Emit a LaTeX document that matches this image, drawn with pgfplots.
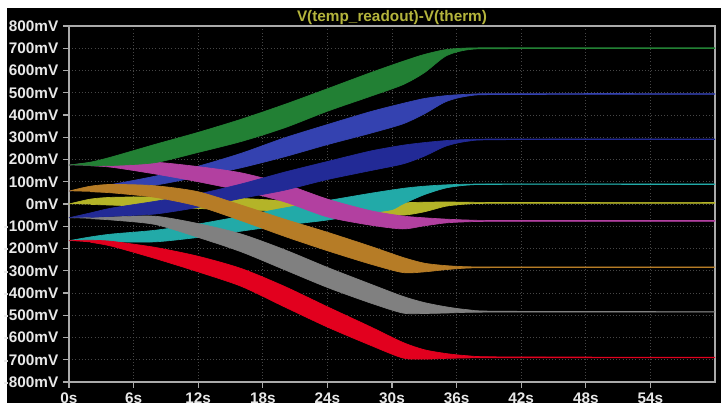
\documentclass[border=0pt]{standalone}
\usepackage{fontspec}
\setmainfont{Liberation Sans}
\usepackage{pgfplots}
\pgfplotsset{compat=1.18}
\usetikzlibrary{calc,backgrounds}

\definecolor{trgreen}{RGB}{34,128,52}
\definecolor{trroyal}{RGB}{52,66,176}
\definecolor{trnavy}{RGB}{34,42,150}
\definecolor{trmagenta}{RGB}{178,64,160}
\definecolor{trorange}{RGB}{182,124,38}
\definecolor{tryellow}{RGB}{180,180,40}
\definecolor{trgray}{RGB}{128,128,128}
\definecolor{trcyan}{RGB}{34,170,168}
\definecolor{trred}{RGB}{226,0,30}
\definecolor{ttl}{RGB}{180,180,60}
\definecolor{tlbl}{RGB}{232,232,232}
\definecolor{framec}{RGB}{170,170,170}
\definecolor{gridc}{RGB}{70,70,70}

\begin{document}
\begin{tikzpicture}
\begin{axis}[
  scale only axis, width=484.5pt, height=267pt,
  xmin=0, xmax=60, ymin=-800, ymax=800,
  xtick={0,6,...,54},
  xticklabels={0s,6s,12s,18s,24s,30s,36s,42s,48s,54s},
  ytick={-800,-700,...,800},
  yticklabels={-800mV,-700mV,-600mV,-500mV,-400mV,-300mV,-200mV,-100mV,0mV,100mV,200mV,300mV,400mV,500mV,600mV,700mV,800mV},
  tick pos=left, tick align=outside, major tick length=4.5pt,
  major tick style={framec, line width=1pt},
  axis line style={framec, line width=1.1pt},
  ticklabel style={font=\fontsize{11.5}{13}\selectfont\bfseries, text=tlbl},
  grid=major,
  major grid style={dotted, gridc, line width=0.6pt},
  every axis plot/.append style={line width=0.5pt, line join=round, smooth, tension=0.45},
]
\coordinate (ll) at (rel axis cs:0,0);
% each band: upper envelope left to right, then lower envelope back
% yellow
\addplot[fill=tryellow, draw=tryellow] coordinates {
 (0,0) (2,22) (4,30) (8,32) (12,30) (16,25) (20,15) (24,10) (28,8) (31,6) (33,8) (35,9) (37,8) (40,7) (60,7)
 (60,3) (40,3) (37,0) (35,-10) (33,-35) (31,-50) (28,-45) (24,-38) (20,-32) (16,-28) (12,-20) (8,-12) (4,-5) (2,-2)};
% royal blue
\addplot[fill=trroyal, draw=trroyal] coordinates {
 (0,58) (2,72) (4,88) (8,125) (12,170) (16,228) (20,297) (24,357) (28,415) (31,452) (33,474) (35,487) (37,493) (40,496) (60,496)
 (60,493) (40,492) (37,485) (35,460) (33,405) (31,360) (28,318) (24,267) (20,212) (16,163) (12,122) (8,85) (4,66) (2,62)};
% cyan
\addplot[fill=trcyan, draw=trcyan] coordinates {
 (0,-165) (2,-148) (4,-135) (8,-118) (12,-90) (16,-55) (20,-18) (24,15) (28,48) (31,70) (33,80) (35,86) (37,89) (40,90) (60,90)
 (60,88) (40,88) (37,85) (35,72) (33,42) (31,0) (30,-25) (28,-40) (24,-72) (20,-95) (16,-122) (12,-150) (8,-170) (4,-170) (2,-167)};
% gray
\addplot[fill=trgray, draw=trgray] coordinates {
 (0,-62) (2,-60) (4,-58) (8,-55) (12,-88) (16,-135) (20,-205) (24,-285) (28,-360) (31,-415) (33,-443) (35,-462) (37,-475) (40,-482) (60,-484)
 (60,-486) (40,-486) (37,-487) (35,-490) (33,-492) (31,-490) (28,-445) (24,-375) (20,-295) (16,-215) (12,-150) (8,-92) (4,-72) (2,-66)};
% red
\addplot[fill=trred, draw=trred] coordinates {
 (0,-165) (2,-163) (4,-168) (8,-195) (12,-235) (16,-290) (20,-370) (24,-462) (28,-552) (31,-622) (33,-655) (35,-672) (37,-682) (40,-687) (60,-689)
 (60,-691) (40,-691) (37,-692) (35,-694) (33,-697) (31,-692) (28,-635) (24,-553) (20,-462) (16,-370) (12,-305) (8,-245) (4,-190) (2,-172)};
% magenta
\addplot[fill=trmagenta, draw=trmagenta] coordinates {
 (0,175) (2,185) (4,192) (8,188) (12,168) (16,140) (20,90) (24,22) (28,-30) (31,-54) (33,-62) (35,-68) (37,-72) (40,-74) (60,-74)
 (60,-78) (40,-78) (37,-80) (35,-85) (33,-98) (31,-112) (28,-95) (24,-58) (20,10) (16,60) (12,100) (8,135) (4,165) (2,172)};
% navy
\addplot[fill=trnavy, draw=trnavy] coordinates {
 (0,-62) (2,-40) (4,-18) (8,12) (12,45) (16,90) (20,143) (24,191) (28,238) (31,264) (33,276) (35,285) (37,290) (40,292) (60,292)
 (60,290) (40,289) (37,282) (35,260) (33,215) (31,180) (28,150) (24,110) (20,62) (16,25) (12,-15) (8,-45) (4,-55) (2,-60)};
% orange
\addplot[fill=trorange, draw=trorange] coordinates {
 (0,58) (2,80) (4,88) (8,82) (12,55) (16,-5) (20,-68) (24,-127) (28,-190) (31,-240) (33,-266) (35,-277) (37,-282) (40,-283) (60,-283)
 (60,-285) (40,-286) (37,-288) (35,-295) (33,-305) (31,-308) (28,-270) (24,-210) (20,-145) (16,-75) (12,-10) (8,30) (4,50) (2,55)};
% green
\addplot[fill=trgreen, draw=trgreen] coordinates {
 (0,175) (2,188) (4,212) (8,268) (12,322) (16,381) (20,447) (24,518) (28,590) (31,641) (33,672) (35,694) (37,701) (40,702) (60,702)
 (60,699) (40,698) (37,693) (35,665) (33,590) (31,536) (28,484) (24,417) (20,342) (16,281) (12,232) (8,186) (4,173) (2,172)};
\end{axis}
% page: 721x403 px at 0.75pt/px; axis corner sits at px (69,382)
\node[anchor=base, text=ttl, font=\fontsize{11.5}{13}\selectfont\bfseries]
  at ($(ll)+(242.25pt,270pt)$) {V(temp\_readout)-V(therm)};
\begin{scope}[on background layer]
  \fill[white] ($(ll)+(-51.75pt,-15.75pt)$) rectangle ($(ll)+(489pt,286.5pt)$);
  \fill[black] ($(ll)+(-46.5pt,-15.75pt)$) rectangle ($(ll)+(489pt,280.5pt)$);
\end{scope}
\pgfresetboundingbox
\path[use as bounding box] ($(ll)+(-51.75pt,-15.75pt)$) rectangle ($(ll)+(489pt,286.5pt)$);
\end{tikzpicture}
\end{document}
